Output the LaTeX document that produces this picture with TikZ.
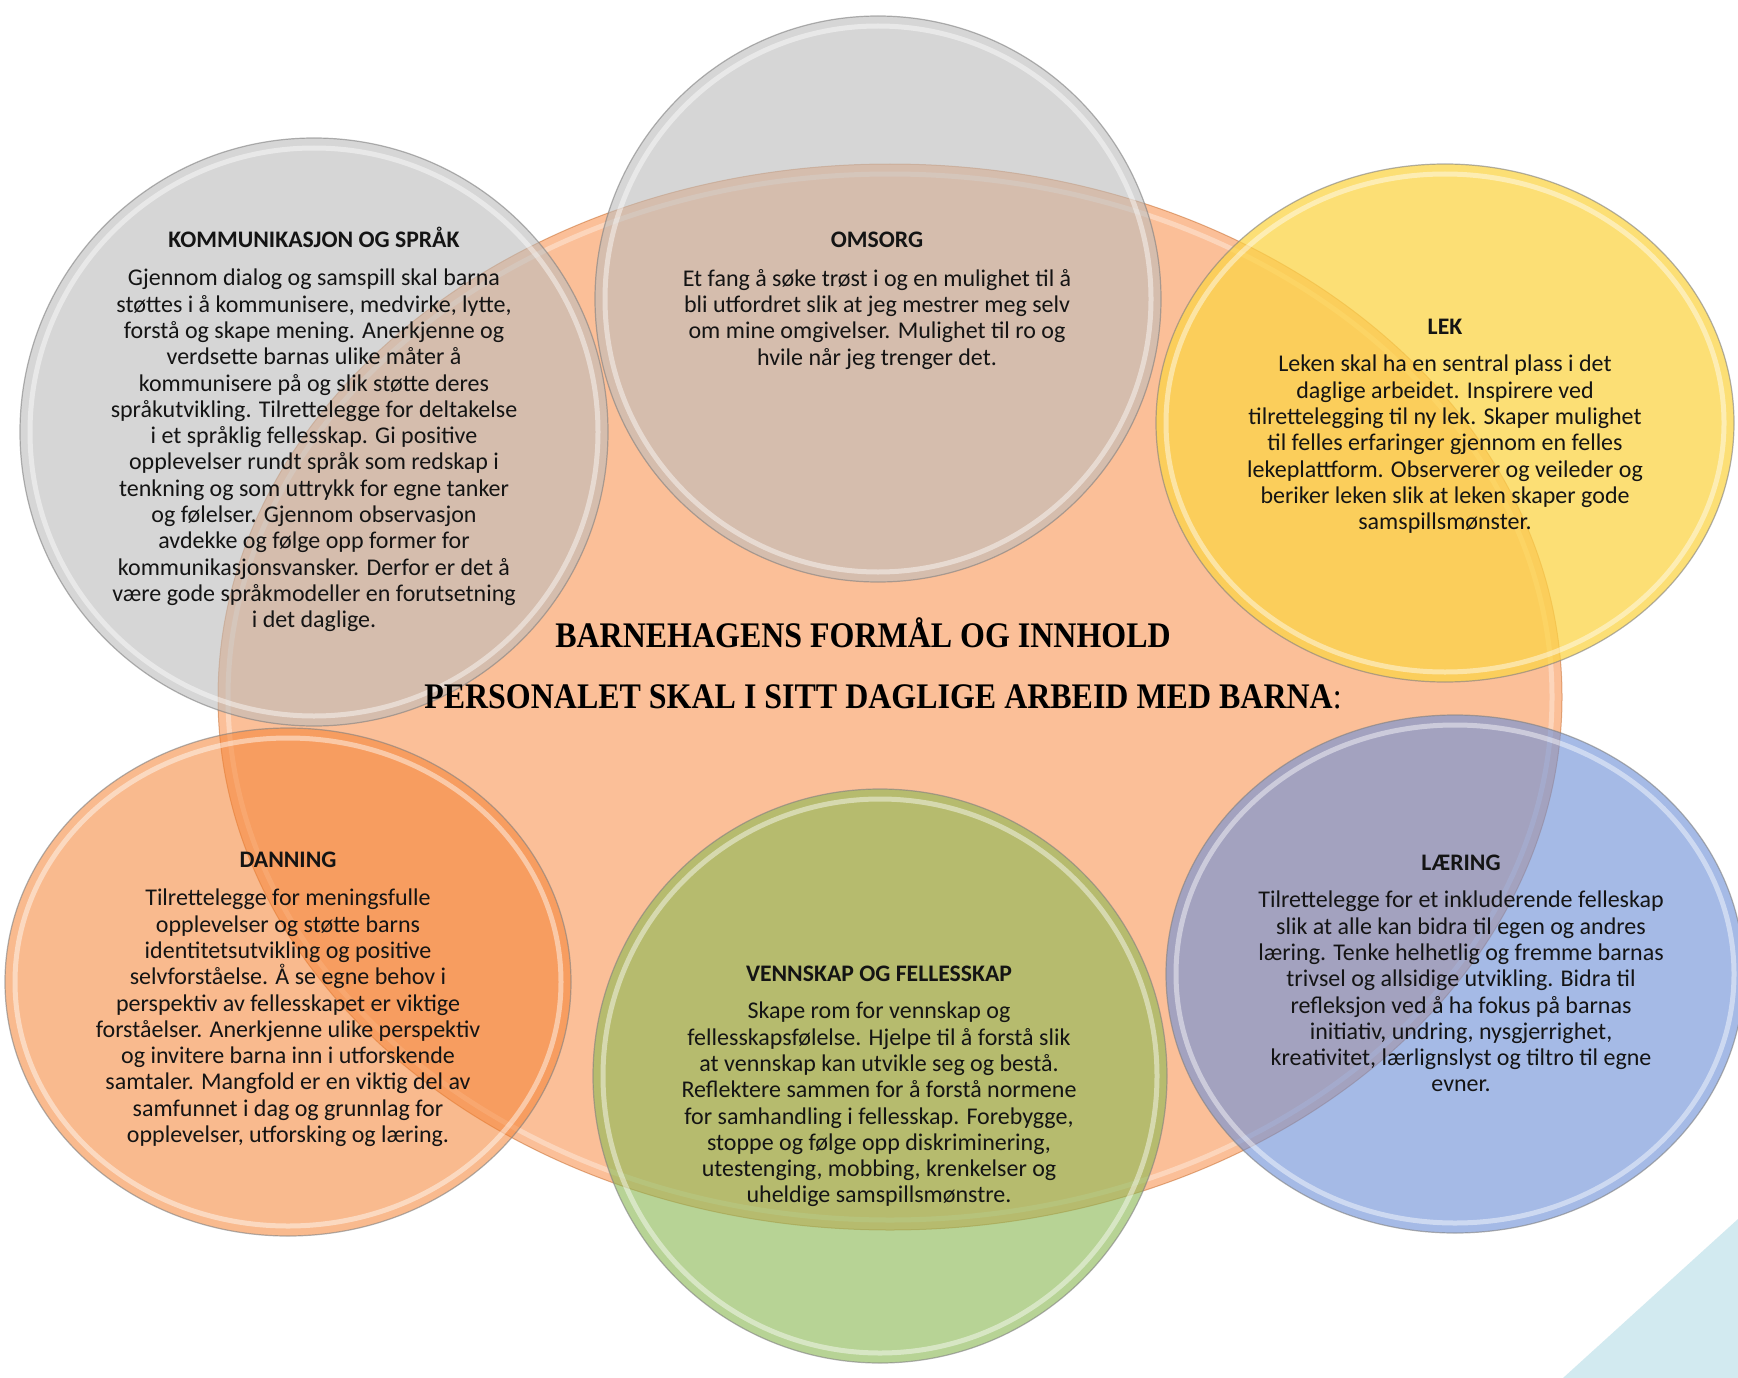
\documentclass[tikz,border=0pt]{standalone}
\usepackage{fontspec}
\setmainfont{Carlito}
\newfontfamily\titlefont{Liberation Serif}
\definecolor{txt}{RGB}{20,20,20}
\definecolor{peach}{RGB}{251,191,152}
\definecolor{grayc}{RGB}{188,188,188}
\definecolor{yellowc}{RGB}{252,212,70}
\definecolor{orangec}{RGB}{245,130,50}
\definecolor{greenc}{RGB}{140,185,85}
\definecolor{bluec}{RGB}{110,145,215}
\definecolor{corner}{RGB}{210,234,240}
\begin{document}
\begin{tikzpicture}[x=1pt,y=-1pt,
  body/.style={align=center, inner sep=0pt, text=txt, anchor=north, font=\fontsize{24}{26.3}\selectfont},
  head/.style={inner sep=0pt, text=txt, anchor=base, font=\bfseries\fontsize{23.7}{26.3}\selectfont},
  ttl/.style={inner sep=0pt, text=black, anchor=base, font=\titlefont\bfseries\fontsize{36}{40}\selectfont},
  rim/.style={white, opacity=0.45, line width=5pt},
  outline/.style={black!50, line width=1.2pt, opacity=0.6}]
\useasboundingbox (0,0) rectangle (1738,1378);
\fill[white] (0,0) rectangle (1738,1378);
% corner triangle
\fill[corner] (1563,1378) -- (1738,1219) -- (1738,1378) -- cycle;
% central ellipse
\fill[peach] (890,697) ellipse [x radius=672pt, y radius=533pt];
\draw[orangec!80!black, line width=1pt, opacity=0.5] (890,697) ellipse [x radius=672pt, y radius=533pt];
\draw[rim, opacity=0.35] (890,697) ellipse [x radius=662pt, y radius=523pt];
% circles
\newcommand{\bubble}[5]{%
  \fill[#1, opacity=#5] (#2) ellipse [x radius=#3 pt, y radius=#4 pt];
  \draw[rim] (#2) ellipse [x radius=#3 pt - 10pt, y radius=#4 pt - 10pt];
  \draw[outline] (#2) ellipse [x radius=#3 pt, y radius=#4 pt];}
\bubble{grayc}{314,432}{294}{294}{0.6}
\bubble{grayc}{878,299}{283}{283}{0.6}
\bubble{yellowc}{1445,423}{289}{259}{0.74}
\bubble{orangec}{288,982}{283}{254}{0.55}
\bubble{greenc}{880,1076}{287}{287}{0.62}
\bubble{bluec}{1455,974}{289}{259}{0.62}
% titles
\node[ttl] (t1) at (863,647) {\scalebox{0.888}[1]{BARNEHAGENS FORMÅL OG INNHOLD}};
\node[ttl] (t2) at (883,708) {\scalebox{0.888}[1]{PERSONALET SKAL I SITT DAGLIGE ARBEID MED BARNA\textmd{:}}};
% KOMMUNIKASJON
\node[head] (h1) at (314,247) {KOMMUNIKASJON OG SPRÅK};
\node[body] (b1) at (314,269) {Gjennom dialog og samspill skal barna\\
støttes i å kommunisere, medvirke, lytte,\\
forstå og skape mening. Anerkjenne og\\
verdsette barnas ulike måter å\\
kommunisere på og slik støtte deres\\
språkutvikling. Tilrettelegge for deltakelse\\
i et språklig fellesskap. Gi positive\\
opplevelser rundt språk som redskap i\\
tenkning og som uttrykk for egne tanker\\
og følelser. Gjennom observasjon\\
avdekke og følge opp former for\\
kommunikasjonsvansker. Derfor er det å\\
være gode språkmodeller en forutsetning\\
i det daglige.};
% OMSORG
\node[head] (h2) at (877,247) {OMSORG};
\node[body] (b2) at (877,269) {Et fang å søke trøst i og en mulighet til å\\
bli utfordret slik at jeg mestrer meg selv\\
om mine omgivelser. Mulighet til ro og\\
hvile når jeg trenger det.};
% LEK
\node[head] (h3) at (1445,334) {LEK};
\node[body] (b3) at (1445,355) {Leken skal ha en sentral plass i det\\
daglige arbeidet. Inspirere ved\\
tilrettelegging til ny lek. Skaper mulighet\\
til felles erfaringer gjennom en felles\\
lekeplattform. Observerer og veileder og\\
beriker leken slik at leken skaper gode\\
samspillsmønster.};
% DANNING
\node[head] (h4) at (288,867) {DANNING};
\node[body] (b4) at (288,889) {Tilrettelegge for meningsfulle\\
opplevelser og støtte barns\\
identitetsutvikling og positive\\
selvforståelse. Å se egne behov i\\
perspektiv av fellesskapet er viktige\\
forståelser. Anerkjenne ulike perspektiv\\
og invitere barna inn i utforskende\\
samtaler. Mangfold er en viktig del av\\
samfunnet i dag og grunnlag for\\
opplevelser, utforsking og læring.};
% VENNSKAP
\node[head] (h5) at (879,981) {VENNSKAP OG FELLESSKAP};
\node[body] (b5) at (879,1002) {Skape rom for vennskap og\\
fellesskapsfølelse. Hjelpe til å forstå slik\\
at vennskap kan utvikle seg og bestå.\\
Reflektere sammen for å forstå normene\\
for samhandling i fellesskap. Forebygge,\\
stoppe og følge opp diskriminering,\\
utestenging, mobbing, krenkelser og\\
uheldige samspillsmønstre.};
% LÆRING
\node[head] (h6) at (1461,870) {LÆRING};
\node[body] (b6) at (1461,891) {Tilrettelegge for et inkluderende felleskap\\
slik at alle kan bidra til egen og andres\\
læring. Tenke helhetlig og fremme barnas\\
trivsel og allsidige utvikling. Bidra til\\
refleksjon ved å ha fokus på barnas\\
initiativ, undring, nysgjerrighet,\\
kreativitet, lærlignslyst og tiltro til egne\\
evner.};
\end{tikzpicture}
\end{document}
